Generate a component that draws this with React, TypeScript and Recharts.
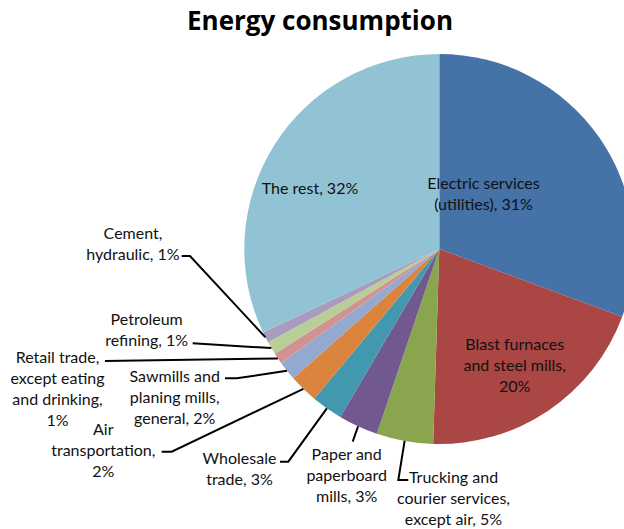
import React from "react";
import { PieChart, Pie, Cell } from "recharts";

const categories = [
  "Electric services (utilities)",
  "Blast furnaces and steel mills",
  "Trucking and courier services, except air",
  "Paper and paperboard mills",
  "Wholesale trade",
  "Air transportation",
  "Sawmills and planing mills, general",
  "Retail trade, except eating and drinking",
  "Petroleum refining",
  "Cement, hydraulic",
  "The rest",
];
const shares = [30.7, 19.9, 4.7, 3.3, 2.6, 2.4, 1.6, 0.9, 1.1, 0.9, 32.1];
const title = "Energy consumption";

const colors = [
  "#4572A7", "#AA4643", "#89A54E", "#71588F", "#4198AF", "#DB843D",
  "#93A9CF", "#D19392", "#B9CD96", "#A99BBD", "#92C3D4",
];

// words per line for each label, and label placement
const wraps = [[2, 2], [2, 3, 1], [2, 2, 3], [2, 1, 2], [1, 2], [1, 1, 1], [2, 2, 2], [2, 2, 2, 1], [1, 2], [1, 2], [3]];
const layout: { x: number; y: number; leader?: number[][] }[] = [
  { x: 483.5, y: 181.7 },
  { x: 514.7, y: 343.3 },
  { x: 453.5, y: 476, leader: [[408.3, 480], [398.3, 480]] },
  { x: 346.7, y: 453.3, leader: [[352.7, 441.7]] },
  { x: 239.5, y: 456.7, leader: [[280, 461.7], [288.3, 461.7]] },
  { x: 103.3, y: 428.3, leader: [[161.7, 451.7], [171.7, 451.7]] },
  { x: 174.7, y: 375, leader: [[225, 378.3], [236.7, 378.3]] },
  { x: 57.5, y: 356, leader: [[105, 361]] },
  { x: 146.7, y: 318.3, leader: [[192.7, 343.3]] },
  { x: 133, y: 231.7, leader: [[181.7, 256], [190, 256]] },
  { x: 310, y: 186.7 },
];

const data = categories.map((name, i) => ({ name, value: shares[i] }));

const FONT = "Lato, 'Open Sans', sans-serif";
const LH = 21;

const renderLabel = (props: any) => {
  const { cx, cy, midAngle, outerRadius, index, percent } = props;
  const lay = layout[index];
  const RAD = Math.PI / 180;
  const ex = cx + outerRadius * Math.cos(-midAngle * RAD);
  const ey = cy + outerRadius * Math.sin(-midAngle * RAD);
  const words = `${categories[index]}, ${Math.round(percent * 100)}%`.split(" ");
  const lines: string[] = [];
  let k = 0;
  for (const n of wraps[index]) {
    lines.push(words.slice(k, k + n).join(" "));
    k += n;
  }
  let path = "";
  if (lay.leader) {
    const pts = [...lay.leader, [ex, ey]];
    path = pts.map((p, i) => `${i === 0 ? "M" : "L"}${p[0]},${p[1]}`).join(" ");
  }
  return (
    <g key={`lbl-${index}`}>
      {path && <path d={path} stroke="#000" strokeWidth={2} fill="none" />}
      <text
        x={lay.x}
        y={lay.y}
        textAnchor="middle"
        dominantBaseline="central"
        fontFamily={FONT}
        fontSize={16}
        fill="#111"
      >
        {lines.map((l, i) => (
          <tspan key={i} x={lay.x} y={lay.y + i * LH}>
            {l}
          </tspan>
        ))}
      </text>
    </g>
  );
};

export default function App() {
  return (
    <div style={{ position: "absolute", left: 0, top: 0, background: "#fff" }}>
      <PieChart width={624} height={529}>
        <text
          x={320}
          y={30}
          textAnchor="middle"
          fontFamily="'Open Sans', sans-serif"
          fontWeight="bold"
          fontSize={26}
          fill="#000"
        >
          {title}
        </text>
        <Pie
          data={data}
          dataKey="value"
          nameKey="name"
          cx={434.3}
          cy={244}
          outerRadius={195}
          startAngle={90}
          endAngle={-270}
          stroke="none"
          label={renderLabel}
          labelLine={false}
          isAnimationActive={false}
        >
          {data.map((d, i) => (
            <Cell key={d.name} fill={colors[i]} />
          ))}
        </Pie>
      </PieChart>
    </div>
  );
}
